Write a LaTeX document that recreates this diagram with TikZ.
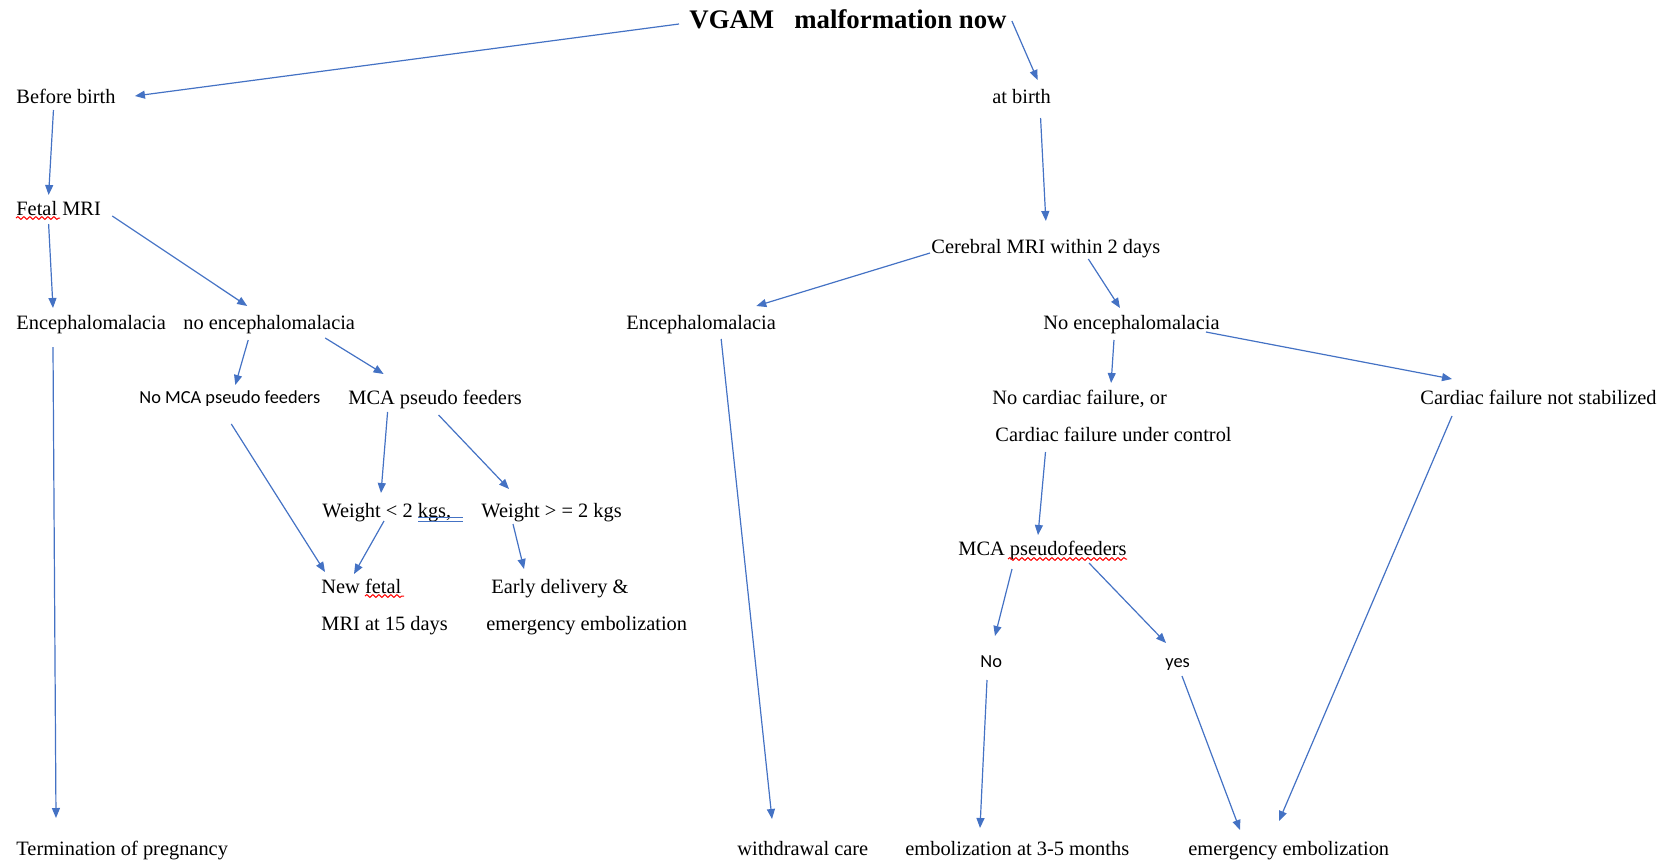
\documentclass[tikz,border=0pt]{standalone}
\usepackage{fontspec}
\setmainfont{Liberation Serif}
\newfontfamily\calib{Carlito}
\usetikzlibrary{arrows.meta,calc,decorations.pathmorphing}
\definecolor{wblue}{HTML}{4472C4}
\tikzset{
  txt/.style={anchor=west,inner sep=0pt,text height=7pt,text depth=0pt,font=\fontsize{10.2}{12}\selectfont},
  stxt/.style={anchor=west,inner sep=0pt,text height=6.6pt,text depth=0pt,font=\calib\fontsize{9.2}{11}\selectfont},
  ttl/.style={anchor=west,inner sep=0pt,font=\bfseries\fontsize{13.4}{15}\selectfont},
  arr/.style={draw=wblue,line width=0.6pt,-{Triangle[length=5pt,width=4pt]},fill=none},
  squig/.style={draw=red,line width=0.5pt,decorate,decoration={snake,amplitude=0.7pt,segment length=3pt}},
  dbl/.style={draw=wblue,line width=0.5pt}
}
\begin{document}
\begin{tikzpicture}[x=0.5pt,y=-0.5pt]
\useasboundingbox (0,0) rectangle (1676,862);
% nodes
\node[ttl] (title) at (689,19) {VGAM\ \ \ malformation now};
\node[txt] (bb) at (16,96) {Before birth};
\node[txt] (ab) at (992,96) {at birth};
\node[txt] (fm) at (16,208) {Fetal MRI};
\node[txt] (cer) at (931,246) {Cerebral MRI within 2 days};
\node[txt] (enc1) at (16,322) {Encephalomalacia};
\node[txt] (noenc) at (183,322) {no encephalomalacia};
\node[txt] (enc2) at (626,322) {Encephalomalacia};
\node[txt] (noenc2) at (1043,322) {No encephalomalacia};
\node[stxt] (nomca) at (139,397) {No MCA pseudo feeders};
\node[txt] (mca) at (348,397) {MCA pseudo feeders};
\node[txt] (nc1) at (992,397) {No cardiac failure, or};
\node[txt] (nc2) at (995,434) {Cardiac failure under control};
\node[txt] (cns) at (1420,397) {Cardiac failure not stabilized};
\node[txt] (w1) at (322,510) {Weight < 2 kgs,};
\node[txt] (w2) at (481,510) {Weight > = 2 kgs};
\node[txt] (nf) at (321,586) {New fetal};
\node[txt] (nf2) at (321,623) {MRI at 15 days};
\node[txt] (ed) at (491,586) {Early delivery \&};
\node[txt] (ee1) at (486,623) {emergency embolization};
\node[txt] (mcapf) at (958,548) {MCA pseudofeeders};
\node[stxt] (no) at (980,661) {No};
\node[stxt] (yes) at (1165,661) {yes};
\node[txt] (term) at (16,848) {Termination of pregnancy};
\node[txt] (wc) at (737,848) {withdrawal care};
\node[txt] (em35) at (905,848) {embolization at 3-5 months};
\node[txt] (ee2) at (1188,848) {emergency embolization};
% proofing marks
\draw[squig] ($(fm.west)+(0,10)$) -- ($(fm.west)+(44,10)$);
\draw[squig] ($(nf.west)+(44,10)$) -- ($(nf.west)+(83,10)$);
\draw[squig] ($(mcapf.west)+(50,11)$) -- ($(mcapf.west)+(169,11)$);
\draw[dbl] ($(w1.west)+(96,7)$) -- ($(w1.west)+(141,7)$);
\draw[dbl] ($(w1.west)+(96,11)$) -- ($(w1.west)+(141,11)$);
% connectors
\draw[arr] ($(title.west)+(-10,5)$) -- ($(bb.east)+(19,0)$);
\draw[arr] ($(title.east)+(5,2)$) -- ($(ab.center)+(16,-16)$);
\draw[arr] ($(bb.center)+(-12.5,14)$) -- ($(fm.center)+(-10,-13)$);
\draw[arr] ($(ab.center)+(19,22)$) -- ($(cer.center)+(0,-25)$);
\draw[arr] ($(fm.center)+(-10,16)$) -- ($(enc1.west)+(37,-14)$);
\draw[arr] ($(fm.east)+(11,8)$) -- ($(noenc.center)+(-22,-16)$);
\draw[arr] ($(enc1.west)+(37,25)$) -- ($(term.west)+(40,-30)$);
\draw[arr] ($(noenc.center)+(-21,18)$) -- ($(nomca.center)+(5.5,-12)$);
\draw[arr] ($(noenc.center)+(56,16)$) -- ($(mca.center)+(-51.5,-23)$);
\draw[arr] ($(nomca.center)+(1.5,27)$) -- ($(nf.west)+(4,-14)$);
\draw[arr] ($(mca.center)+(-47.5,15)$) -- ($(w1.west)+(59,-17)$);
\draw[arr] ($(mca.center)+(3.5,18)$) -- ($(w2.west)+(28,-21)$);
\draw[arr] ($(w1.west)+(62,11)$) -- ($(nf.west)+(33,-12)$);
\draw[arr] ($(w2.west)+(32,14)$) -- ($(ed.west)+(33,-17)$);
\draw[arr] ($(cer.west)+(-1,7)$) -- ($(enc2.east)+(-20,-16)$);
\draw[arr] ($(cer.center)+(42.5,13)$) -- ($(noenc2.center)+(-11.5,-14)$);
\draw[arr] ($(enc2.center)+(20,17)$) -- ($(wc.west)+(35,-29)$);
\draw[arr] ($(noenc2.center)+(-17.5,18)$) -- ($(nc1.center)+(31.5,-14)$);
\draw[arr] ($(noenc2.east)+(-14,10)$) -- ($(cns.west)+(32,-18)$);
\draw[arr] ($(nc2.center)+(-68,18)$) -- ($(mcapf.west)+(80,-13)$);
\draw[arr] ($(cns.west)+(32,19)$) -- ($(ee2.west)+(91,-27)$);
\draw[arr] ($(mcapf.west)+(54,21)$) -- ($(no.west)+(15,-25)$);
\draw[arr] ($(mcapf.west)+(131,15)$) -- ($(yes.west)+(1,-18)$);
\draw[arr] ($(no.west)+(7,19)$) -- ($(em35.west)+(75,-20)$);
\draw[arr] ($(yes.west)+(17,15)$) -- ($(ee2.west)+(52,-18)$);
\end{tikzpicture}
\end{document}
